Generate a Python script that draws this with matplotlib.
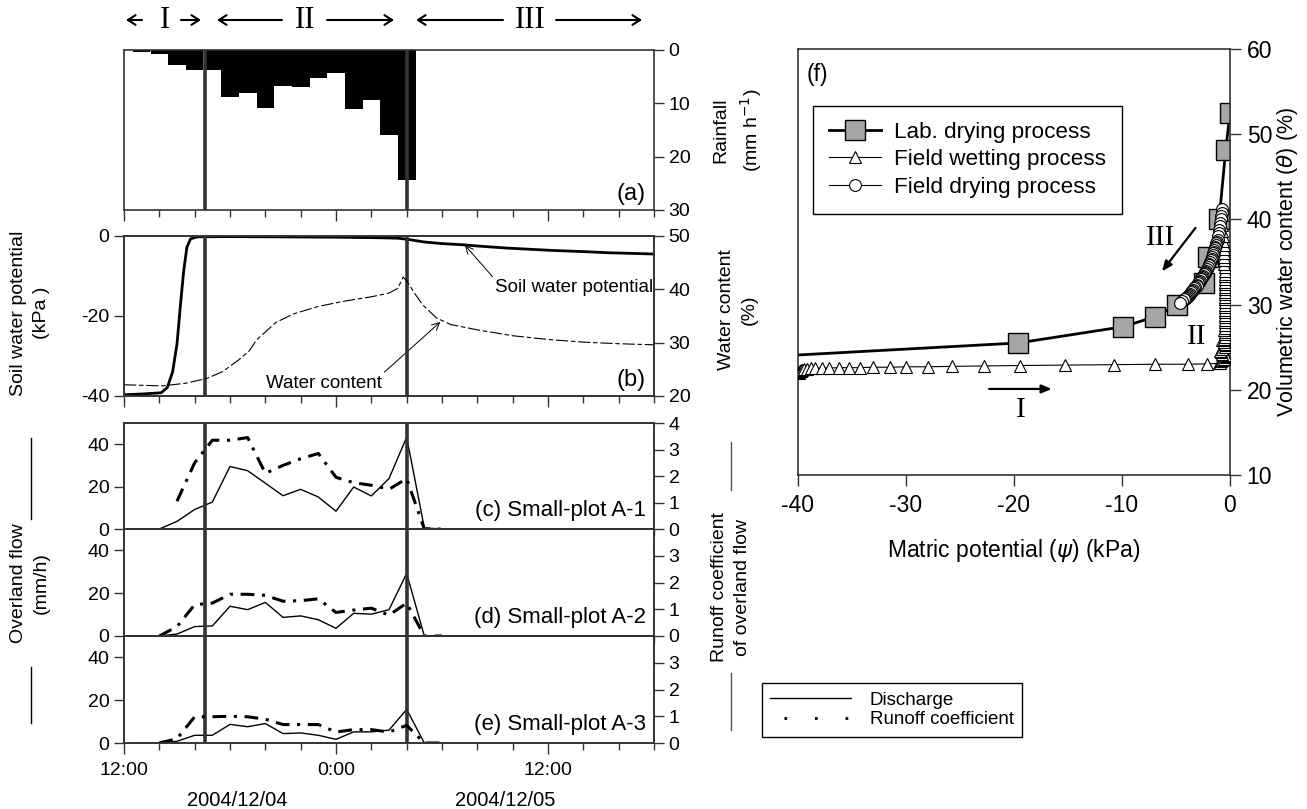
import matplotlib.pyplot as plt
from matplotlib.lines import Line2D
from matplotlib.ticker import MultipleLocator

plt.rcParams['font.family'] = ['Liberation Sans', 'DejaVu Sans']
plt.rcParams['axes.unicode_minus'] = False

W, H = 1307, 809

# ---------------------------------------------------------------------
# Data (time axis in hours after 12:00 on 2004/12/04)
# ---------------------------------------------------------------------
rain_hour = [1, 2, 3, 4, 5, 6, 7, 8, 9, 10, 11, 12, 13, 14, 15, 16]
rain_mm = [0.4, 0.8, 2.9, 3.8, 3.8, 8.9, 8.0, 10.8, 6.7, 7.0, 5.3, 4.3, 11.1, 9.3, 16.0, 24.3]

psi_hour = [0, 1, 2.1, 2.45, 2.75, 3.0, 3.2, 3.38, 3.56, 3.77, 4.16, 6, 8, 10, 12, 14,
            15.5, 16, 17, 18, 19.2, 20, 21.6, 24.2, 26, 27.5, 30]
psi_kpa = [-39.7, -39.5, -39.2, -37.9, -34.0, -27.0, -17.0, -8.7, -2.8, -0.7, -0.2, -0.15,
           -0.2, -0.25, -0.3, -0.4, -0.55, -0.8, -1.5, -1.9, -2.2, -2.5, -3.0, -3.6, -3.9, -4.2, -4.5]

wc_hour = [0, 2.2, 3.5, 4.7, 5.6, 6.5, 7.1, 7.5, 8.6, 9.6, 11, 12.5, 14, 15, 15.5, 15.8,
           16.0, 16.4, 16.9, 17.7, 18.5, 20, 22, 24, 26, 28, 30]
wc_pct = [22.1, 21.9, 22.4, 23.3, 24.6, 26.8, 28.5, 30.5, 33.8, 35.4, 36.8, 37.8, 38.6, 39.3,
          40.2, 42.3, 41.6, 39.5, 37.1, 34.6, 33.4, 32.4, 31.3, 30.6, 30.1, 29.8, 29.6]

flow_hour = [1, 2, 3, 4, 5, 6, 7, 8, 9, 10, 11, 12, 13, 14, 15, 16, 17, 18]
flow_a1 = [0, 0, 3.6, 9.2, 12.7, 29.5, 27.5, 21.6, 15.7, 18.7, 15.1, 8.4, 19.8, 15.6, 23.8, 43.3, 0.5, 0]
flow_a2 = [0, 0, 0.9, 4.4, 4.7, 13.9, 12.3, 15.7, 8.7, 9.4, 7.6, 3.6, 10.6, 10.2, 12.3, 29.2, 0, 0]
flow_a3 = [0, 0, 0.8, 3.6, 3.6, 8.7, 7.6, 9.1, 4.4, 4.7, 3.6, 1.7, 5.2, 5.2, 6.0, 15.7, 0, 0]

coef_hour_a1 = [3, 4, 5, 6, 7, 8, 9, 10, 11, 12, 13, 14, 15, 16, 17, 18]
coef_a1 = [1.05, 2.5, 3.35, 3.35, 3.45, 2.1, 2.4, 2.65, 2.85, 1.95, 1.75, 1.65, 1.5, 1.9, 0.0, 0.0]
coef_hour = [2, 3, 4, 5, 6, 7, 8, 9, 10, 11, 12, 13, 14, 15, 16, 17, 18]
coef_a2 = [0.0, 0.35, 1.17, 1.23, 1.56, 1.56, 1.52, 1.3, 1.32, 1.39, 0.88, 0.97, 1.04, 0.78, 1.23, 0.0, 0.0]
coef_a3 = [0.0, 0.16, 0.98, 0.98, 1.0, 0.98, 0.89, 0.69, 0.69, 0.69, 0.41, 0.5, 0.5, 0.41, 0.66, 0.0, 0.0]

period_marks = [4.6, 16.0]
time_ticks = [0, 12, 24]
time_labels = ['12:00', '0:00', '12:00']

# panel (f): water retention
lab_psi = [0.0, -0.4, -1.0, -2.0, -2.4, -4.9, -6.9, -9.9, -19.6, -60.0]
lab_theta = [52.5, 48.1, 40.1, 35.6, 32.5, 30.0, 28.6, 27.4, 25.5, 22.7]

wet_psi = [-39.95, -39.9, -39.85, -39.8, -39.75, -39.7, -39.6, -39.45, -39.2, -38.8, -38.4,
           -37.8, -37.1, -36.2, -35.3, -34.3, -33.1, -31.5, -30.0, -28.0, -25.7, -22.8, -19.4,
           -15.3, -10.7, -6.9, -3.9, -2.1, -1.0,
           -0.9, -0.8, -0.7, -0.55, -0.4, -0.35, -0.5, -0.7, -0.85, -0.9, -0.7, -0.5, -0.4,
           -0.45, -0.6, -0.7, -0.6, -0.5, -0.45, -0.5, -0.55, -0.5, -0.45, -0.5, -0.5, -0.45,
           -0.45, -0.5, -0.5, -0.45, -0.45, -0.5, -0.5, -0.45, -0.45, -0.5, -0.5, -0.45, -0.5,
           -0.5, -0.45, -0.5, -0.5, -0.5, -0.5, -0.55, -0.55, -0.55, -0.6, -0.6, -0.6, -0.65,
           -0.65, -0.7, -0.7, -0.75]
wet_theta = [22.0, 22.1, 22.15, 22.2, 22.25, 22.3, 22.35, 22.4, 22.45, 22.5, 22.5, 22.55,
             22.55, 22.6, 22.6, 22.6, 22.65, 22.65, 22.7, 22.7, 22.75, 22.8, 22.85, 22.9, 22.95,
             23.0, 23.0, 23.05, 23.1,
             23.2, 23.35, 23.5, 23.65, 23.8, 23.95, 24.1, 24.25, 24.4, 24.6, 24.8, 25.0, 25.2,
             25.4, 25.6, 25.8, 26.0, 26.25, 26.5, 26.75, 27.0, 27.3, 27.6, 27.9, 28.2, 28.5,
             28.8, 29.1, 29.4, 29.7, 30.0, 30.3, 30.6, 30.9, 31.2, 31.5, 31.8, 32.1, 32.4,
             32.7, 33.0, 33.3, 33.6, 34.0, 34.4, 34.8, 35.2, 35.6, 36.0, 36.5, 37.0, 37.5,
             38.0, 38.6, 39.3, 40.5]

dry_psi = [-0.7, -0.75, -0.8, -0.85, -0.9, -0.95, -1.0, -1.05, -1.1, -1.15, -1.2, -1.25,
           -1.3, -1.35, -1.4, -1.45, -1.5, -1.55, -1.6, -1.65, -1.7, -1.75, -1.82, -1.9,
           -1.97, -2.05, -2.12, -2.2, -2.28, -2.35, -2.42, -2.5, -2.58, -2.65, -2.72, -2.8,
           -2.88, -2.95, -3.02, -3.1, -3.2, -3.3, -3.4, -3.5, -3.6, -3.7, -3.8, -3.9, -4.0,
           -4.1, -4.2, -4.3, -4.4, -4.6]
dry_theta = [41.2, 40.8, 40.4, 40.0, 39.6, 39.2, 38.8, 38.4, 38.0, 37.6, 37.4, 37.2, 37.0,
             36.8, 36.6, 36.4, 36.2, 36.0, 35.8, 35.6, 35.4, 35.2, 35.0, 34.8, 34.6, 34.4,
             34.2, 34.0, 33.85, 33.7, 33.55, 33.4, 33.25, 33.1, 32.95, 32.8, 32.65, 32.5,
             32.35, 32.2, 32.05, 31.9, 31.75, 31.6, 31.45, 31.3, 31.15, 31.0, 30.9, 30.8,
             30.7, 30.6, 30.45, 30.2]

# ---------------------------------------------------------------------
# Layout helpers (pixel boxes -> figure fractions)
# ---------------------------------------------------------------------
def box(l, t, r, b):
    return [l / W, 1 - b / H, (r - l) / W, (b - t) / H]

def fx(px):
    return px / W

def fy(py):
    return 1 - py / H

SPINE = '#333333'
TICK_FS = 14

fig = plt.figure(figsize=(W / 100, H / 100), dpi=100)

L, R = 124, 654
ax_a = fig.add_axes(box(L, 50, R, 210))
ax_b = fig.add_axes(box(L, 236, R, 396))
ax_c = fig.add_axes(box(L, 423, R, 529))
ax_d = fig.add_axes(box(L, 529, R, 636))
ax_e = fig.add_axes(box(L, 636, R, 743))
time_axes = [ax_a, ax_b, ax_c, ax_d, ax_e]


def style_axis(ax):
    for s in ax.spines.values():
        s.set_color(SPINE)
        s.set_linewidth(1.2)


for ax in time_axes:
    style_axis(ax)
    ax.set_xlim(0, 30)
    ax.xaxis.set_major_locator(MultipleLocator(12))
    ax.xaxis.set_minor_locator(MultipleLocator(2))
    ax.tick_params(axis='x', which='major', direction='out', length=8, width=1,
                   color=SPINE, labelbottom=False)
    ax.tick_params(axis='x', which='minor', direction='out', length=5, width=1, color=SPINE)
    ax.tick_params(axis='y', direction='out', length=7, width=1, color=SPINE,
                   labelsize=TICK_FS)
    for x in period_marks:
        ax.axvline(x, color='#333333', lw=2.6, zorder=5)

# (a) rainfall
ax_a.bar(rain_hour, rain_mm, width=1.0, color='black', linewidth=0)
ax_a.set_ylim(30, 0)
ax_a.set_yticks([0, 10, 20, 30])
ax_a.yaxis.tick_right()
ax_a.tick_params(axis='y', left=False, right=True)
ax_a.text(0.985, 0.1, '(a)', transform=ax_a.transAxes, ha='right', va='center', fontsize=17)

# (b) soil water potential / water content
ax_b.plot(psi_hour, psi_kpa, color='black', lw=2)
ax_b.set_ylim(-40, 0)
ax_b.set_yticks([-40, -20, 0])
ax_b2 = ax_b.twinx()
style_axis(ax_b2)
ax_b2.plot(wc_hour, wc_pct, color='black', lw=0.8, ls=(0, (11, 2.5, 4, 2.5)))
ax_b2.set_ylim(20, 50)
ax_b2.set_yticks([20, 30, 40, 50])
ax_b2.tick_params(axis='y', direction='out', length=7, width=1, color=SPINE, labelsize=TICK_FS)
ax_b.text(0.985, 0.1, '(b)', transform=ax_b.transAxes, ha='right', va='center', fontsize=17)
ax_b.annotate('Soil water potential', xy=(19.3, -2.3), xytext=(21.0, -13.0),
              ha='left', va='center', fontsize=13.5,
              arrowprops=dict(arrowstyle='->', lw=0.7, color='black', relpos=(0.0, 1.0),
                              shrinkA=0, shrinkB=0))
ax_b.annotate('Water content', xy=(17.9, -21.5), xytext=(11.3, -36.8),
              ha='center', va='center', fontsize=13.5,
              arrowprops=dict(arrowstyle='->', lw=0.7, color='black', relpos=(1.0, 1.0),
                              shrinkA=0, shrinkB=0))

# (c)-(e) overland flow and runoff coefficient
plots = [
    (ax_c, flow_a1, coef_hour_a1, coef_a1, [0, 1, 2, 3, 4], '(c) Small-plot A-1'),
    (ax_d, flow_a2, coef_hour, coef_a2, [0, 1, 2, 3], '(d) Small-plot A-2'),
    (ax_e, flow_a3, coef_hour, coef_a3, [0, 1, 2, 3], '(e) Small-plot A-3'),
]
for ax, flow, ch, coef, rticks, name in plots:
    ax.plot(flow_hour, flow, color='black', lw=1.0)
    ax.set_ylim(0, 50)
    ax.set_yticks([0, 20, 40])
    axr = ax.twinx()
    style_axis(axr)
    axr.plot(ch, coef, color='black', lw=2.2, ls=(0, (4.5, 2.5, 1, 2.5)))
    axr.set_ylim(0, 4)
    axr.set_yticks(rticks)
    axr.tick_params(axis='y', direction='out', length=7, width=1, color=SPINE,
                    labelsize=TICK_FS)
    ax.text(0.985, 0.17, name, transform=ax.transAxes, ha='right', va='center', fontsize=16)

ax_e.set_xticks(time_ticks)
ax_e.set_xticklabels(time_labels)
ax_e.tick_params(axis='x', which='major', labelbottom=True, labelsize=TICK_FS, pad=6)

fig.text(fx(237), fy(800), '2004/12/04', ha='center', va='center', fontsize=14.5)
fig.text(fx(505), fy(800), '2004/12/05', ha='center', va='center', fontsize=14.5)

# axis titles of the left column
lab_kw = dict(rotation=90, ha='center', va='center', fontsize=14, multialignment='center',
              linespacing=1.45)
fig.text(fx(738), fy(130), 'Rainfall\n(mm h$^{-1}$)', **lab_kw)
fig.text(fx(30), fy(313), 'Soil water potential\n(kPa )', **lab_kw)
fig.text(fx(738), fy(310), 'Water content\n(%)', **lab_kw)
fig.text(fx(30), fy(583), 'Overland flow\n(mm/h)', **lab_kw)
fig.text(fx(731), fy(587), 'Runoff coefficient\nof overland flow', **lab_kw)
for x, t, b, c in [(31, 438, 519, 'black'), (31, 667, 723, 'black'),
                   (731, 442, 490, '#555555'), (731, 673, 730, '#555555')]:
    fig.add_artist(Line2D([fx(x), fx(x)], [fy(t), fy(b)], color=c, lw=1.0))

# period markers on top
arrow_kw = dict(arrowstyle='->,head_length=0.55,head_width=0.35', lw=1.5, color='black',
                shrinkA=0, shrinkB=0)
for x0, x1 in [(142, 126), (181, 201), (282, 217), (327, 394), (503, 416), (556, 642)]:
    fig.add_artist(plt.Annotation('', xy=(x1, H - 20), xytext=(x0, H - 20),
                                  xycoords='figure pixels', textcoords='figure pixels',
                                  arrowprops=arrow_kw))
for x, s in [(165, 'I'), (305, 'II'), (530, 'III')]:
    fig.text(fx(x), fy(21), s, ha='center', va='center', fontsize=22,
             family='Liberation Serif')

# (f) retention curves
ax_f = fig.add_axes(box(798, 49, 1230, 475))
style_axis(ax_f)
ax_f.plot(lab_psi, lab_theta, color='black', lw=2, marker='s', ms=14, mfc='#a6a6a6',
          mec='black', mew=1, zorder=2, label='Lab. drying process')
ax_f.plot(wet_psi, wet_theta, color='black', lw=0.8, marker='^', ms=9, mfc='white',
          mec='black', mew=0.8, zorder=3, label='Field wetting process')
ax_f.plot(dry_psi, dry_theta, color='black', lw=0.8, marker='o', ms=8.5, mfc='white',
          mec='black', mew=0.8, zorder=4, label='Field drying process')
ax_f.set_xlim(-40, 0)
ax_f.set_ylim(10, 60)
ax_f.set_xticks([-40, -30, -20, -10, 0])
ax_f.set_yticks([10, 20, 30, 40, 50, 60])
ax_f.yaxis.tick_right()
ax_f.yaxis.set_label_position('right')
ax_f.tick_params(axis='both', direction='out', length=8, width=1, color=SPINE, labelsize=16.5,
                 pad=6)
ax_f.tick_params(axis='y', left=False, right=True, pad=4)
ax_f.set_xlabel('Matric potential ($\\psi$) (kPa)', fontsize=16.5, labelpad=14)
ax_f.set_ylabel('Volumetric water content ($\\theta$) (%)', fontsize=15.5, labelpad=2)
ax_f.text(0.02, 0.94, '(f)', transform=ax_f.transAxes, ha='left', va='center', fontsize=16.5)
ax_f.legend(loc='upper left', bbox_to_anchor=(0.035, 0.8665), borderaxespad=0,
            fancybox=False, edgecolor='black', framealpha=1, fontsize=16.2,
            handlelength=2.3, labelspacing=0.3, borderpad=0.7, handletextpad=0.6)

ax_f.annotate('', xy=(-6.3, 33.9), xytext=(-3.2, 39.0),
              arrowprops=dict(arrowstyle='-|>,head_length=0.6,head_width=0.25', lw=1.6,
                              color='black', shrinkA=0, shrinkB=0))
ax_f.annotate('', xy=(-16.5, 20.1), xytext=(-22.3, 20.1),
              arrowprops=dict(arrowstyle='-|>,head_length=0.6,head_width=0.25', lw=1.6,
                              color='black', shrinkA=0, shrinkB=0))
ax_f.text(-6.4, 37.8, 'III', ha='center', va='center', fontsize=21, family='Liberation Serif')
ax_f.text(-3.05, 26.2, 'II', ha='center', va='center', fontsize=21, family='Liberation Serif')
ax_f.text(-19.4, 17.6, 'I', ha='center', va='center', fontsize=21, family='Liberation Serif')

# legend for (c)-(e)
handles = [Line2D([], [], color='black', lw=1.0),
           Line2D([], [], color='black', lw=2.0, ls=(6, (1, 10)))]
fig.legend(handles, ['Discharge', 'Runoff coefficient'], loc='upper left',
           bbox_to_anchor=(fx(762), fy(683)), borderaxespad=0, fancybox=False,
           edgecolor='black', framealpha=1, fontsize=13.5, handlelength=4.3,
           handletextpad=1.0, labelspacing=0.15, borderpad=0.45)

fig.savefig('out.png', dpi=100)
